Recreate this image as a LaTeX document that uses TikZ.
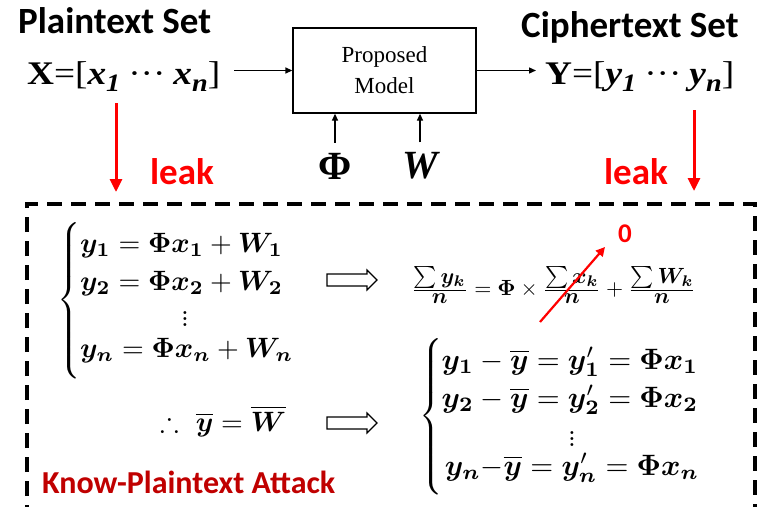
\documentclass[tikz,border=0pt]{standalone}
\usepackage{amsmath,amssymb}
\usepackage{fontspec}
\usepackage{bm}
\newfontfamily\calib{Carlito}
\newfontfamily\tnr{Liberation Serif}
\usetikzlibrary{arrows.meta}
\definecolor{attackred}{RGB}{192,0,0}
\newcommand{\vy}{\bm{y}}
\newcommand{\vx}{\bm{x}}
\newcommand{\vW}{\bm{W}}
\newcommand{\vPhi}{\bm{\Phi}}
\newcommand{\vn}{\bm{n}}
\newcommand{\tsub}[1]{\raisebox{-7pt}{\fontsize{25}{25}\selectfont\bfseries\itshape #1}}
\newcommand{\bigmath}[2][2.8]{\scalebox{#1}{$#2$}}
\newcommand{\wide}[1]{\scalebox{1.13}[1]{#1}}
% a curly brace scaled to a given total height
\newcommand{\bracebox}[1]{\resizebox*{!}{#1}{$\left\{\vrule height 28pt depth 28pt width 0pt\right.$}}
% three closely spaced dots
\newcommand{\tightvdots}{\vbox{\baselineskip=2.3pt\lineskiplimit=0pt\hbox{$.$}\hbox{$.$}\hbox{$.$}}}
\newcommand{\tfr}[2]{\frac{\textstyle #1}{\textstyle #2}}
\begin{document}
\begin{tikzpicture}[x=1pt,y=-1pt,
  title/.style={font=\calib\bfseries\fontsize{37}{40}\selectfont, anchor=base west, inner sep=0},
  setlabel/.style={font=\tnr\fontsize{33}{36}\selectfont, anchor=base west, inner sep=0},
  leaklabel/.style={text=red, font=\calib\bfseries\fontsize{37}{40}\selectfont, anchor=base, inner sep=0},
  arr/.style={-{Triangle[length=7pt,width=6pt]}, line width=1.3pt},
  leakarr/.style={red, line width=3pt, -{Triangle[length=13pt,width=12pt]}},
  eq/.style={inner sep=0},
  eqrow/.style={inner sep=0, anchor=base west},
  eqrowc/.style={inner sep=0, anchor=base},
  dashbox/.style={line width=3.5pt, dash pattern=on 15pt off 9pt},
  hollowarrow/.pic={\draw[line width=1.2pt, fill=white] (0,-6) -- (40,-6) -- (40,-10) -- (50,0) -- (40,10) -- (40,6) -- (0,6) -- cycle;}
]
\useasboundingbox (0,0) rectangle (768,506);

% headings
\node[title] (ptitle) at (18,33) {Plaintext Set};
\node[title] (ctitle) at (521,37) {Ciphertext Set};

% the two sets
\node[setlabel] (xset) at (27,84) {\wide{\textbf{X}=[\textbf{\textit{x}}\tsub{1}\hspace{7pt}···\hspace{7pt}\textbf{\textit{x}}\tsub{n}]}};
\node[setlabel] (yset) at (545,84) {\wide{\textbf{Y}=[\textbf{\textit{y}}\tsub{1}\hspace{7pt}···\hspace{7pt}\textbf{\textit{y}}\tsub{n}]}};

% model block
\node[draw, line width=1.3pt, minimum width=183pt, minimum height=85pt, align=center,
      font=\tnr\fontsize{23}{31}\selectfont] (model) at (384.5,70.5) {Proposed\\Model};

\draw[arr, shorten <=14pt] (xset.east |- model.west) -- (model.west);
\draw[arr, shorten >=9pt] (model.east) -- (model.east -| yset.west);

% parameters
\node[font=\tnr\bfseries\fontsize{40}{40}\selectfont, inner sep=0] (phi) at (335,166) {Φ};
\node[font=\tnr\bfseries\itshape\fontsize{40}{40}\selectfont, inner sep=0] (wpar) at (420,166) {W};
\draw[arr, shorten <=10pt] (phi.north) -- (phi.north |- model.south);
\draw[arr, shorten <=10pt] (wpar.north) -- (wpar.north |- model.south);

% leaks
\coordinate (ltop) at (116,103);
\coordinate (lbot) at (116,192);
\coordinate (rtop) at (694,110);
\coordinate (rbot) at (694,191);
\draw[leakarr] (ltop) -- (lbot);
\draw[leakarr] (rtop) -- (rbot);
\node[leaklabel] (leakl) at (182,184) {leak};
\node[leaklabel] (leakr) at (636,184) {leak};

% attack frame
\draw[dashbox] (27,520) -- (27,204) -- (755,204) -- (755,520);

% left system
\node[eq, anchor=west] (bracel) at (57,301) {\bracebox{158pt}};
\node[eqrow] (l1) at (80,252) {\bigmath{\vy_{\bm 1} = \vPhi\vx_{\bm 1} + \vW_{\bm 1}}};
\node[eqrow] (l2) at (80,290) {\bigmath{\vy_{\bm 2} = \vPhi\vx_{\bm 2} + \vW_{\bm 2}}};
\node[eq] (ldots) at (185,319) {\bigmath{\tightvdots}};
\node[eqrow] (ln) at (80,357) {\bigmath{\vy_{\vn} = \vPhi\vx_{\vn} + \vW_{\vn}}};

\node[eq, anchor=base] (mean) at (223,431) {\bigmath{\therefore\ \overline{\vy} = \overline{\vW}}};

\pic at (327,280) {hollowarrow};
\pic at (327,423) {hollowarrow};

% averaged relation
\node[eq, anchor=west] (avg) at (411,285) {\bigmath[2.2]{\tfr{\sum\vy_{\bm k}}{\vn} = \vPhi \times \tfr{\sum\vx_{\bm k}}{\vn} + \tfr{\sum\vW_{\bm k}}{\vn}}};
\coordinate (crossA) at (540,322);
\coordinate (crossB) at (605,247);
\draw[red, line width=2.2pt, -{Triangle[length=9pt,width=9pt]}] (crossA) -- (crossB);
\node[text=red, font=\calib\bfseries\fontsize{27}{27}\selectfont, inner sep=0] (zero) at (625,234) {0};

% right system
\node[eq, anchor=west] (bracer) at (419,417) {\bracebox{158pt}};
\node[eqrowc] (r1) at (570,369) {\bigmath[2.95]{\vy_{\bm 1} - \overline{\vy} = \vy'_{\bm 1} = \vPhi\vx_{\bm 1}}};
\node[eqrowc] (r2) at (570,407) {\bigmath[2.95]{\vy_{\bm 2} - \overline{\vy} = \vy'_{\bm 2} = \vPhi\vx_{\bm 2}}};
\node[eq] (rdots) at (572,439) {\bigmath{\tightvdots}};
\node[eqrowc] (rn) at (572,475) {\bigmath[2.95]{\vy_{\vn}{-}\overline{\vy} = \vy'_{\vn} = \vPhi\vx_{\vn}}};

\node[font=\calib\bfseries\fontsize{32}{34}\selectfont, text=attackred, anchor=base west, inner sep=0] (attack) at (42,493) {Know-Plaintext Attack};
\end{tikzpicture}
\end{document}
